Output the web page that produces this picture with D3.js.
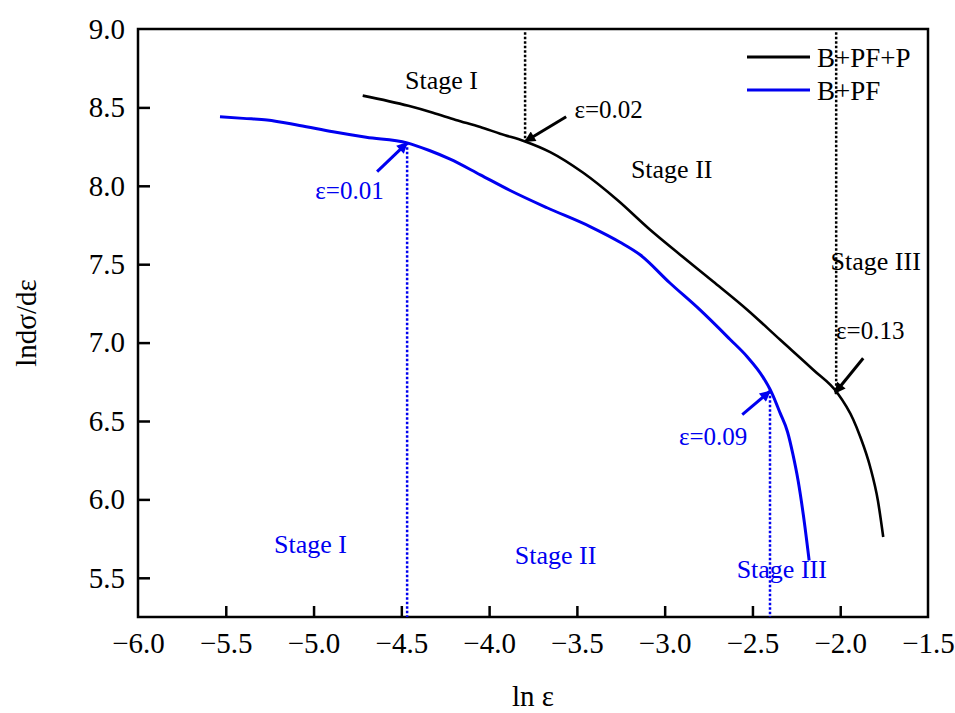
<!DOCTYPE html>
<html>
<head>
<meta charset="utf-8">
<script src="https://cdn.jsdelivr.net/npm/d3@7"></script>
<style>
body{margin:0;background:#fff;}
text{font-family:"Liberation Serif","Times New Roman",serif;}
</style>
</head>
<body>
<div class="chartcontainer"></div>
<script>
//data
let xTicks=[-6.0,-5.5,-5.0,-4.5,-4.0,-3.5,-3.0,-2.5,-2.0,-1.5];
let yTicks=[5.5,6.0,6.5,7.0,7.5,8.0,8.5,9.0];

//B+PF+P
let lnEpsP=[-4.72,-4.46,-4.32,-4.19,-4.05,-3.937,-3.795,-3.652,-3.464,-3.271,-3.083,-2.912,-2.724,-2.530,-2.342,-2.154,-2.017,-1.926,-1.886,-1.83,-1.785,-1.755];
let rateP=[8.575,8.51,8.466,8.42,8.375,8.332,8.283,8.215,8.083,7.911,7.720,7.561,7.390,7.210,7.018,6.827,6.68,6.51,6.40,6.21,5.99,5.76];

//B+PF
let lnEpsF=[-5.533,-5.40,-5.265,-5.08,-4.889,-4.70,-4.467,-4.34,-4.222,-4.05,-3.88,-3.67,-3.425,-3.254,-3.14,-2.97,-2.80,-2.627,-2.53,-2.44,-2.39,-2.342,-2.30,-2.27,-2.24,-2.21,-2.177];
let rateF=[8.44,8.43,8.42,8.385,8.345,8.31,8.274,8.225,8.17,8.07,7.97,7.86,7.74,7.64,7.56,7.38,7.21,7.02,6.91,6.78,6.68,6.55,6.43,6.29,6.12,5.90,5.61];

let seriesNames=["B+PF+P","B+PF"];
let seriesColors=["#000000","#0000f0"];

//stage boundaries [x, yFrom, yTo, series]
let markers=[[-3.795,8.98,8.283,0],[-2.023,8.98,6.67,0],[-4.467,8.274,5.25,1],[-2.40,6.69,5.25,1]];
//arrows [tailX, tailY, tipX, tipY, series]
let arrows=[[-3.561,8.44,-3.795,8.283,0],[-1.869,6.90,-2.029,6.68,0],[-4.638,8.09,-4.467,8.274,1],[-2.558,6.54,-2.40,6.69,1]];
//labels [text, x, y, series, size]
let labels=[
	["Stage I",-4.271,8.62,0,26],
	["Stage II",-2.960,8.05,0,26],
	["Stage III",-1.798,7.465,0,26],
	["ε=0.02",-3.319,8.434,0,25],
	["ε=0.13",-1.829,7.02,0,25],
	["ε=0.01",-4.795,7.917,1,25],
	["ε=0.09",-2.724,6.35,1,25],
	["Stage I",-5.017,5.66,1,26],
	["Stage II",-3.621,5.59,1,26],
	["Stage III",-2.333,5.50,1,26]
];

let width=955,height=713;
let mLeft=138,mRight=928,mTop=29,mBottom=617;
let serif="'Liberation Serif','Times New Roman',serif";

let svg=d3.select(".chartcontainer").append("svg")
	.attr("width",width)
	.attr("height",height);

let x=d3.scaleLinear().domain([-6.0,-1.5]).range([mLeft,mRight]);
let y=d3.scaleLinear().domain([5.25,9.0]).range([mBottom,mTop]);

let defs=svg.append("defs");
seriesColors.forEach(function(c,i){
	defs.append("marker")
		.attr("id","arrow"+i)
		.attr("viewBox","0 0 10 10")
		.attr("refX",9).attr("refY",5)
		.attr("markerUnits","userSpaceOnUse")
		.attr("markerWidth",15).attr("markerHeight",11)
		.attr("orient","auto")
		.append("path")
		.attr("d","M0,0L10,5L0,10z")
		.attr("fill",c);
});

//axes
let fmt=d3.format(".1f");
let xAxis=svg.append("g")
	.attr("transform","translate(0,"+mBottom+")")
	.call(d3.axisBottom(x).tickValues(xTicks).tickSize(-11).tickPadding(15).tickFormat(fmt));
let yAxis=svg.append("g")
	.attr("transform","translate("+mLeft+",0)")
	.call(d3.axisLeft(y).tickValues(yTicks).tickSize(-12).tickPadding(13).tickFormat(fmt));
[xAxis,yAxis].forEach(function(a){
	a.attr("font-family",serif).attr("font-size",29);
	a.select(".domain").remove();
	a.selectAll(".tick line").attr("stroke","#000").attr("stroke-width",2.5);
	a.selectAll(".tick text").attr("fill","#000");
});
xAxis.selectAll(".tick").filter(function(d){return d==-6.0||d==-1.5;}).select("line").remove();
yAxis.selectAll(".tick").filter(function(d){return d==9.0;}).select("line").remove();

//frame
svg.append("rect")
	.attr("x",mLeft).attr("y",mTop)
	.attr("width",mRight-mLeft).attr("height",mBottom-mTop)
	.attr("fill","none").attr("stroke","#000").attr("stroke-width",2.5);

//dotted stage boundaries
svg.selectAll(".marker").data(markers).enter().append("line")
	.attr("class","marker")
	.attr("x1",function(d){return x(d[0]);})
	.attr("x2",function(d){return x(d[0]);})
	.attr("y1",function(d){return y(d[1]);})
	.attr("y2",function(d){return y(d[2]);})
	.attr("stroke",function(d){return seriesColors[d[3]];})
	.attr("stroke-width",2.5)
	.attr("stroke-dasharray","2.5,2");

//curves
let line=d3.line()
	.x(function(d){return x(d[0]);})
	.y(function(d){return y(d[1]);})
	.curve(d3.curveMonotoneX);
let curves=[d3.zip(lnEpsP,rateP),d3.zip(lnEpsF,rateF)];
curves.forEach(function(pts,i){
	svg.append("path")
		.datum(pts)
		.attr("d",line)
		.attr("fill","none")
		.attr("stroke",seriesColors[i])
		.attr("stroke-width",i==0?2.6:3);
});

//arrows
svg.selectAll(".arrow").data(arrows).enter().append("line")
	.attr("class","arrow")
	.attr("x1",function(d){return x(d[0]);})
	.attr("y1",function(d){return y(d[1]);})
	.attr("x2",function(d){return x(d[2]);})
	.attr("y2",function(d){return y(d[3]);})
	.attr("stroke",function(d){return seriesColors[d[4]];})
	.attr("stroke-width",3)
	.attr("marker-end",function(d){return "url(#arrow"+d[4]+")";});

//labels
svg.selectAll(".label").data(labels).enter().append("text")
	.attr("class","label")
	.attr("x",function(d){return x(d[1]);})
	.attr("y",function(d){return y(d[2]);})
	.attr("text-anchor","middle")
	.attr("font-size",function(d){return d[4];})
	.attr("fill",function(d){return seriesColors[d[3]];})
	.text(function(d){return d[0];});

//legend
let legend=svg.append("g");
seriesNames.forEach(function(name,i){
	let ly=57+i*33;
	legend.append("line")
		.attr("x1",747).attr("x2",810)
		.attr("y1",ly).attr("y2",ly)
		.attr("stroke",seriesColors[i])
		.attr("stroke-width",3);
	legend.append("text")
		.attr("x",817).attr("y",ly+10)
		.attr("font-size",27)
		.attr("fill","#000")
		.text(name);
});

//axis titles
svg.append("text")
	.attr("x",(mLeft+mRight)/2).attr("y",706)
	.attr("text-anchor","middle")
	.attr("font-size",29)
	.text("ln ε");
svg.append("text")
	.attr("transform","translate(36,"+((mTop+mBottom)/2)+") rotate(-90)")
	.attr("text-anchor","middle")
	.attr("font-size",29)
	.text("lndσ/dε");
</script>
</body>
</html>
